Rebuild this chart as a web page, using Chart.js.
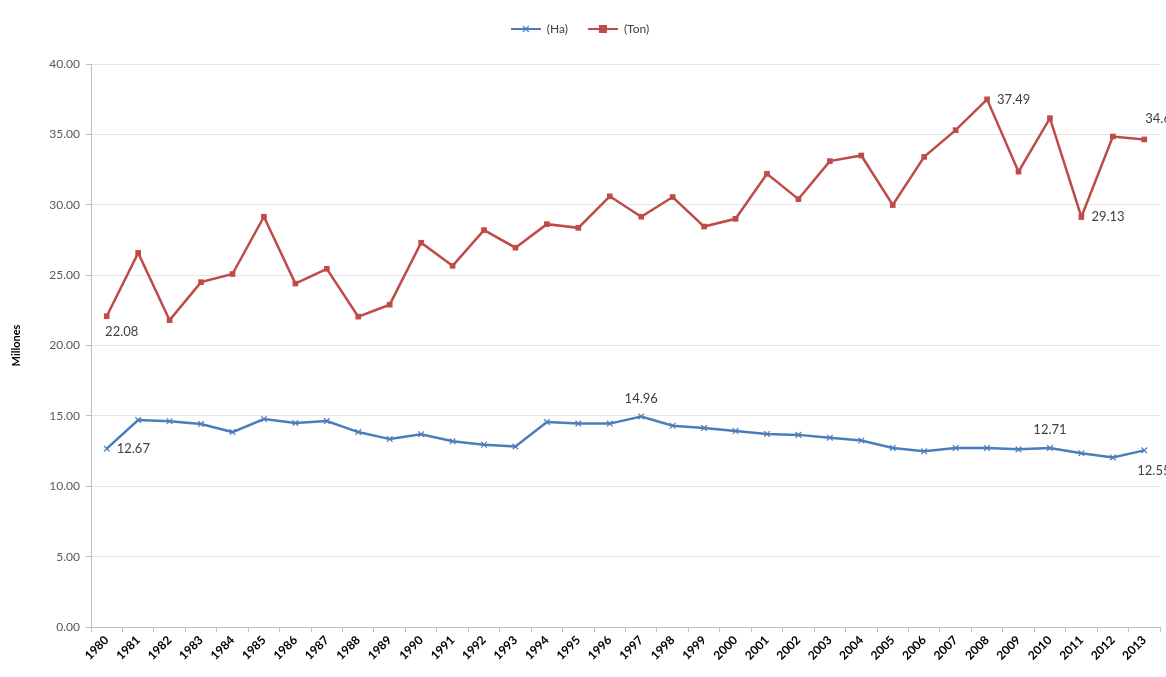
<!DOCTYPE html>
<html>
<head>
<meta charset="utf-8">
<script src="https://cdn.jsdelivr.net/npm/chart.js@4.4.1/dist/chart.umd.min.js"></script>
<style>
  html, body { margin: 0; padding: 0; background: #ffffff; }
  #wrap { width: 1166px; height: 677px; position: relative; }
</style>
</head>
<body>
<div id="wrap"><canvas id="c" width="1166" height="677"></canvas></div>
<script>
// Years on the category axis
const years = ['1980','1981','1982','1983','1984','1985','1986','1987','1988','1989',
  '1990','1991','1992','1993','1994','1995','1996','1997','1998','1999',
  '2000','2001','2002','2003','2004','2005','2006','2007','2008','2009',
  '2010','2011','2012','2013'];

// Harvested area, millions of hectares
const hectares = [12.67, 14.70, 14.62, 14.42, 13.85, 14.78, 14.50, 14.63, 13.85, 13.35,
  13.70, 13.20, 12.95, 12.82, 14.56, 14.45, 14.45, 14.96, 14.30, 14.13,
  13.92, 13.72, 13.65, 13.45, 13.25, 12.72, 12.48, 12.72, 12.72, 12.62,
  12.71, 12.35, 12.05, 12.55];

// Production, millions of tons
const tons = [22.08, 26.58, 21.80, 24.50, 25.08, 29.15, 24.40, 25.45, 22.05, 22.90,
  27.30, 25.66, 28.20, 26.95, 28.62, 28.36, 30.60, 29.15, 30.55, 28.45,
  29.00, 32.20, 30.40, 33.10, 33.50, 29.98, 33.40, 35.30, 37.49, 32.35,
  36.15, 29.13, 34.85, 34.64];

// Values printed next to their points: [dataset index, point index, position]
const pointLabels = [
  [0, 0, 'right'], [0, 17, 'above'], [0, 30, 'above'], [0, 33, 'belowRight'],
  [1, 0, 'below'], [1, 28, 'right'], [1, 31, 'right'], [1, 33, 'aboveRight']
];

const blue = '#4a7ebb';
const red = '#be4b48';
const FONT = 'Lato, "Open Sans", sans-serif';

// Legend swatch: a short line with the series marker on it
function swatch(color, style) {
  const cv = document.createElement('canvas');
  cv.width = 30; cv.height = 10;
  const g = cv.getContext('2d');
  g.strokeStyle = color; g.lineWidth = 2;
  g.beginPath(); g.moveTo(0, 5); g.lineTo(30, 5); g.stroke();
  if (style === 'rect') {
    g.fillStyle = color; g.fillRect(11, 1, 8, 8);
  } else {
    g.lineWidth = 1.2;
    g.beginPath(); g.moveTo(12, 2); g.lineTo(18, 8); g.moveTo(18, 2); g.lineTo(12, 8); g.stroke();
  }
  return cv;
}
const swatches = [swatch(blue, 'cross'), swatch(red, 'rect')];

// Extra room between the legend row and the plot area
const legendGap = {
  id: 'legendGap',
  beforeLayout(chart) {
    const lg = chart.legend;
    if (lg && !lg._gapPatched) {
      const fit = lg.fit.bind(lg);
      lg.fit = function () { fit(); this.height += 19; };
      lg._gapPatched = true;
    }
  }
};

const valueLabels = {
  id: 'valueLabels',
  afterDatasetsDraw(chart) {
    const ctx = chart.ctx;
    ctx.save();
    ctx.font = '13px ' + FONT;
    ctx.fillStyle = '#404040';
    ctx.textBaseline = 'middle';
    pointLabels.forEach(([ds, i, pos]) => {
      const pt = chart.getDatasetMeta(ds).data[i];
      const v = chart.data.datasets[ds].data[i];
      const txt = v.toFixed(2);
      let x = pt.x, y = pt.y;
      if (pos === 'right') { ctx.textAlign = 'left'; x += 10; }
      else if (pos === 'above') { ctx.textAlign = 'center'; y -= 18; }
      else if (pos === 'below') { ctx.textAlign = 'center'; x += 15; y += 16; }
      else if (pos === 'belowRight') { ctx.textAlign = 'left'; x -= 7; y += 20; }
      else if (pos === 'aboveRight') { ctx.textAlign = 'left'; x += 1; y -= 21; }
      ctx.fillText(txt, x, y);
    });
    ctx.restore();
  }
};

new Chart(document.getElementById('c'), {
  type: 'line',
  data: {
    labels: years,
    datasets: [
      {
        label: '(Ha)',
        data: hectares,
        borderColor: blue,
        backgroundColor: blue,
        borderWidth: 2.5,
        pointStyle: 'crossRot',
        pointRadius: 4,
        pointBorderWidth: 1.2,
        pointBorderColor: blue,
        tension: 0
      },
      {
        label: '(Ton)',
        data: tons,
        borderColor: red,
        backgroundColor: red,
        borderWidth: 2.5,
        pointStyle: 'rect',
        pointRadius: 4,
        pointBorderWidth: 0,
        tension: 0
      }
    ]
  },
  options: {
    responsive: false,
    animation: false,
    layout: { padding: { top: 3, right: 6, left: 0, bottom: 0 } },
    plugins: {
      tooltip: { enabled: false },
      legend: {
        position: 'top',
        align: 'center',
        labels: {
          usePointStyle: true,
          pointStyleWidth: 30,
          color: '#404040',
          font: { size: 12, family: FONT },
          padding: 20,
          boxHeight: 10,
          generateLabels(chart) {
            return chart.data.datasets.map((d, i) => ({
              text: d.label,
              pointStyle: swatches[i],
              fillStyle: d.borderColor,
              strokeStyle: d.borderColor,
              fontColor: '#404040',
              lineWidth: 0,
              datasetIndex: i,
              hidden: false
            }));
          }
        }
      }
    },
    scales: {
      x: {
        offset: true,
        grid: {
          offset: true,
          drawOnChartArea: false,
          drawTicks: true,
          tickLength: 5,
          color: '#bfbfbf'
        },
        border: { color: '#bfbfbf', width: 1 },
        ticks: {
          autoSkip: false,
          maxRotation: 45,
          minRotation: 45,
          color: '#000000',
          padding: 1,
          font: { size: 12, weight: 'bold', family: FONT }
        },
        afterFit(scale) { scale.height = 50; }
      },
      y: {
        min: 0,
        max: 40,
        ticks: {
          stepSize: 5,
          color: '#595959',
          padding: 6,
          font: { size: 12, family: FONT },
          callback: (v) => Number(v).toFixed(2)
        },
        grid: {
          color: '#e6e6e6',
          tickColor: '#bfbfbf',
          tickLength: 5,
          lineWidth: 1
        },
        border: { color: '#bfbfbf', width: 1 },
        title: {
          display: true,
          text: 'Millones',
          color: '#000000',
          font: { size: 11, weight: 'bold', family: FONT },
          padding: { top: 10, bottom: 4 }
        },
        afterFit(scale) { scale.width = 91; }
      }
    }
  },
  plugins: [legendGap, valueLabels]
});
</script>
</body>
</html>
